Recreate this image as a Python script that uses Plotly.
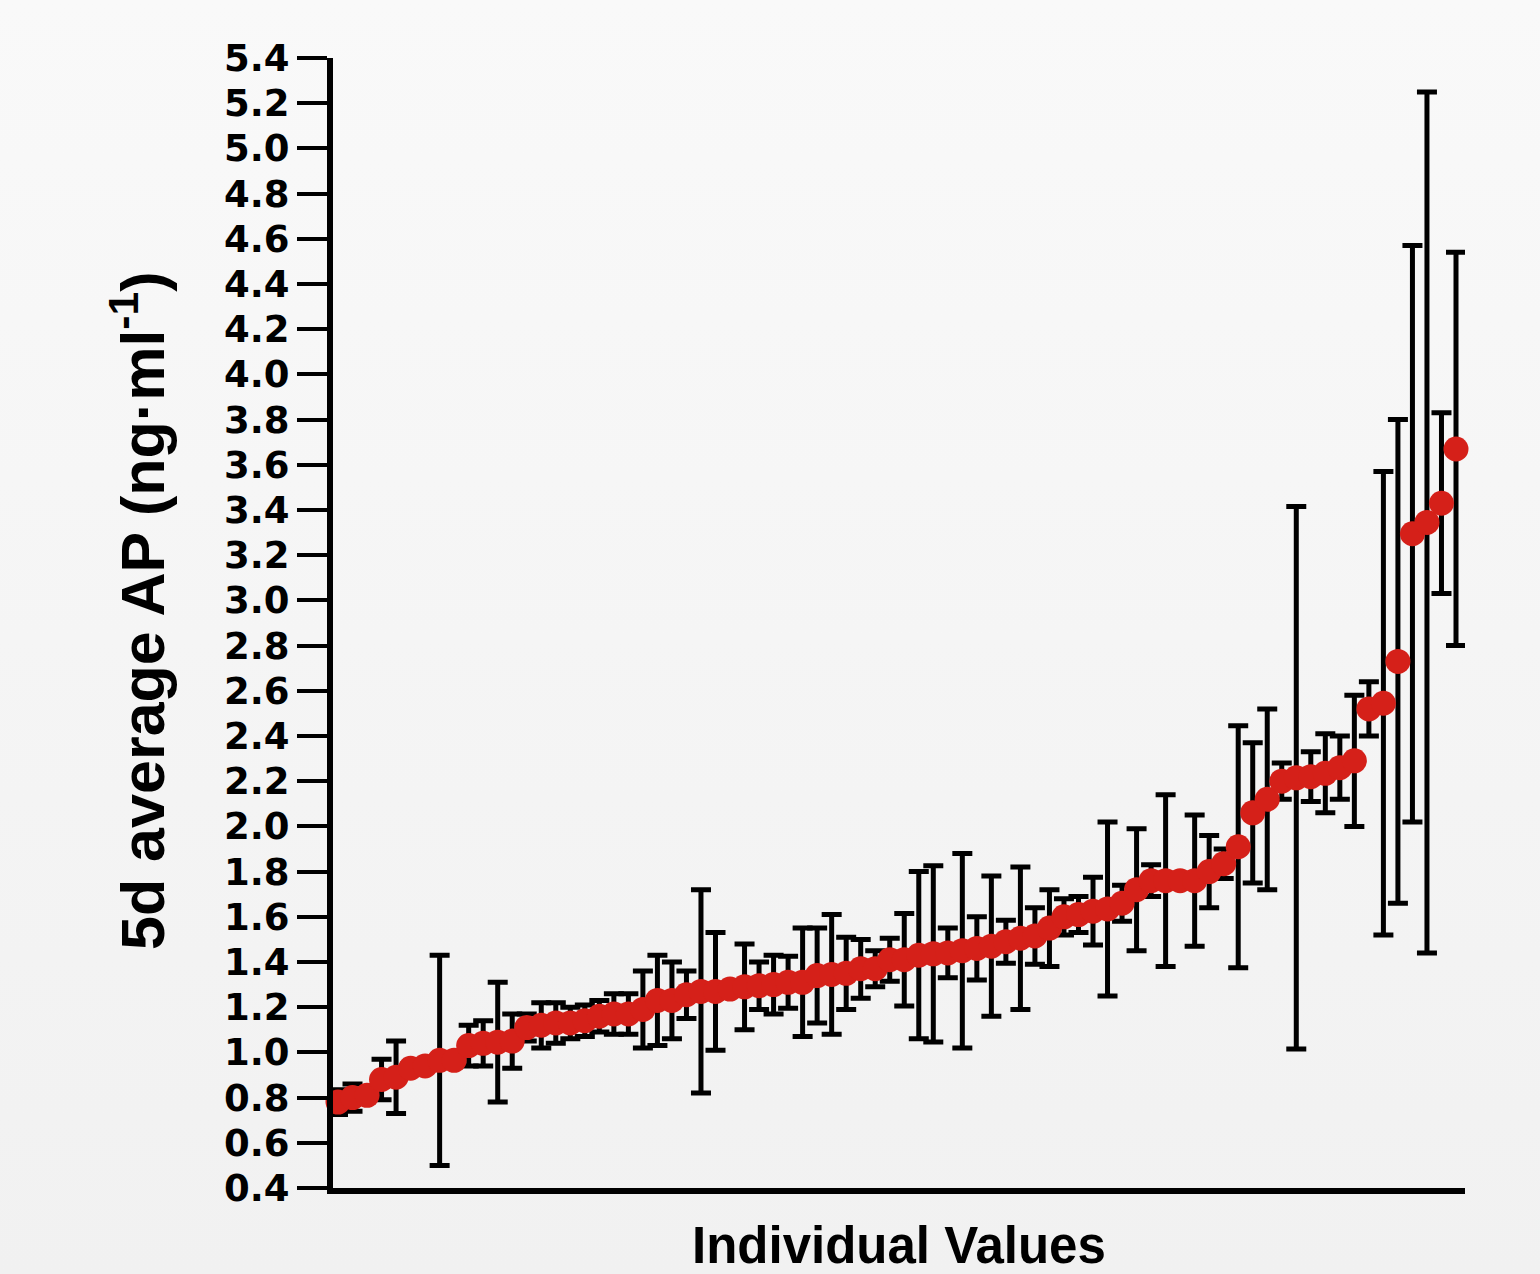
import plotly.graph_objects as go

# Sorted 5-day average AP values (ng/ml) per individual, with symmetric error (SD)
individual_index = list(range(78))
mean_ap = [
    0.78, 0.80, 0.81, 0.88, 0.89, 0.93, 0.94, 0.965, 0.965, 1.03,
    1.04, 1.045, 1.05, 1.11, 1.12, 1.13, 1.13, 1.14, 1.16, 1.17,
    1.17, 1.19, 1.23, 1.23, 1.255, 1.27, 1.27, 1.28, 1.29, 1.295,
    1.30, 1.31, 1.31, 1.34, 1.345, 1.35, 1.37, 1.37, 1.41, 1.41,
    1.43, 1.436, 1.44, 1.45, 1.46, 1.47, 1.49, 1.505, 1.515, 1.55,
    1.60, 1.61, 1.625, 1.635, 1.66, 1.72, 1.76, 1.76, 1.76, 1.76,
    1.80, 1.835, 1.91, 2.06, 2.12, 2.20, 2.215, 2.22, 2.235, 2.26,
    2.29, 2.52, 2.545, 2.73, 3.295, 3.345, 3.43, 3.67,
]
sd_ap = [
    0.055, 0.06, 0.02, 0.09, 0.16, 0.02, 0.02, 0.465, 0.02, 0.09,
    0.10, 0.265, 0.12, 0.06, 0.10, 0.09, 0.07, 0.07, 0.07, 0.09,
    0.09, 0.17, 0.20, 0.17, 0.105, 0.45, 0.26, 0.02, 0.19, 0.105,
    0.13, 0.115, 0.24, 0.21, 0.265, 0.16, 0.13, 0.08, 0.095, 0.205,
    0.37, 0.39, 0.11, 0.43, 0.14, 0.31, 0.095, 0.315, 0.125, 0.17,
    0.08, 0.08, 0.15, 0.385, 0.08, 0.27, 0.07, 0.38, 0.02, 0.29,
    0.16, 0.065, 0.535, 0.31, 0.40, 0.08, 1.20, 0.11, 0.175, 0.14,
    0.29, 0.12, 1.025, 1.07, 1.275, 1.905, 0.40, 0.87,
]
y_ticks = [round(0.4 + 0.2 * k, 1) for k in range(26)]
y_tick_labels = [f"{v:.1f}" for v in y_ticks]

fig = go.Figure()
fig.add_trace(go.Scatter(
    x=individual_index,
    y=mean_ap,
    mode="markers",
    marker=dict(color="#d52019", size=25, line=dict(width=0)),
    error_y=dict(type="data", array=sd_ap, visible=True,
                 color="black", thickness=5, width=10),
    cliponaxis=False,
    showlegend=False,
))

font_family = "Liberation Sans, Arial, sans-serif"

fig.update_layout(
    width=1540, height=1274,
    margin=dict(l=333, r=75, t=58, b=86),
    paper_bgcolor="rgba(0,0,0,0)",
    plot_bgcolor="rgba(0,0,0,0)",
    font=dict(family=font_family, color="black"),
    xaxis=dict(
        range=[-0.344, 77.62],
        showgrid=False, zeroline=False,
        showline=True, linecolor="black", linewidth=6,
        showticklabels=False, ticks="",
    ),
    yaxis=dict(
        range=[0.4, 5.4],
        tickvals=y_ticks, ticktext=y_tick_labels,
        showgrid=False, zeroline=False,
        showline=True, linecolor="black", linewidth=6,
        ticks="outside", ticklen=30, tickwidth=4, tickcolor="black",
        tickfont=dict(family="DejaVu Sans, sans-serif", size=37, color="black", weight="bold"),
    ),
    annotations=[
        dict(text="<b>Individual Values</b>", xref="paper", yref="paper",
             x=0.4996, y=0, xanchor="center", yanchor="middle", yshift=-57,
             showarrow=False, font=dict(family=font_family, size=51, color="black")),
        dict(text="<b>5d average AP (ng·ml<sup>-1</sup>)</b>", xref="paper", yref="paper",
             x=0, y=0.5106, xanchor="center", yanchor="middle", xshift=-195,
             textangle=-90, showarrow=False,
             font=dict(family=font_family, size=61, color="black")),
    ],
)

page_style = (
    "document.body.style.margin='0';"
    "document.body.style.overflow='hidden';"
    "document.documentElement.style.background='linear-gradient(#f9f9f9, #f1f1f1)';"
    "document.body.style.background='linear-gradient(#f9f9f9, #f1f1f1)';"
    "document.body.style.minHeight='1274px';"
)

fig.write_html("out.html", post_script=page_style, config={"displayModeBar": False})
